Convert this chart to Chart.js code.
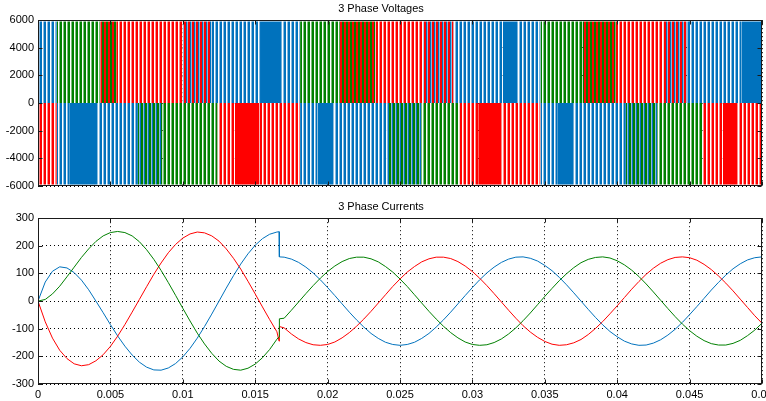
<!DOCTYPE html>
<html>
<head>
<meta charset="utf-8">
<script src="https://cdn.jsdelivr.net/npm/chart.js@4.4.1/dist/chart.umd.min.js"></script>
<style>
  body { margin: 0; background: #fff; }
  canvas { position: absolute; left: 0; }
  #v { top: 0; }
  #c { top: 195px; }
</style>
</head>
<body>
<canvas id="v" width="766" height="192"></canvas>
<canvas id="c" width="766" height="206"></canvas>
<script>
// pulse trains of the line voltages, [start, end] in seconds
const VDC = 5900;
const blueStripeHi = [[0, 0.0013], [0.0120, 0.0154], [0.0168, 0.0181], [0.0287, 0.0321], [0.0331, 0.0347], [0.0448, 0.0486]];
const blueSolidHi = [[0.0154, 0.0168], [0.0321, 0.0331], [0.0486, 0.05]];
const greenStripeHi = [[0.0013, 0.0043], [0.0181, 0.0208], [0.0347, 0.0376]];
const redStripeHi = [[0.0054, 0.0100], [0.0233, 0.0266], [0.0399, 0.0432]];
const redGreenHi = [[0.0043, 0.0054], [0.0208, 0.0233], [0.0376, 0.0399]];
const redBlueHi = [[0.0100, 0.0120], [0.0266, 0.0287], [0.0432, 0.0448]];

const redStripeLo = [[0, 0.0013], [0.0124, 0.0136], [0.0153, 0.0181], [0.0291, 0.0304], [0.0320, 0.0347], [0.0459, 0.0473], [0.0483, 0.05]];
const redSolidLo = [[0.0136, 0.0153], [0.0304, 0.0320], [0.0473, 0.0483]];
const blueStripeLo = [[0.0013, 0.0022], [0.0041, 0.0069], [0.0181, 0.0193], [0.0204, 0.0241], [0.0347, 0.0359], [0.0370, 0.0406]];
const blueSolidLo = [[0.0022, 0.0041], [0.0193, 0.0204], [0.0359, 0.0370]];
const blueGreenLo = [[0.0069, 0.0086], [0.0241, 0.0265], [0.0406, 0.0428]];
const greenStripeLo = [[0.0086, 0.0124], [0.0265, 0.0291], [0.0428, 0.0459]];

// phase currents
const tCur = [0, 0.0005, 0.001, 0.0015, 0.002, 0.0025, 0.003, 0.0035, 0.004, 0.0045, 0.005, 0.0055, 0.006, 0.0065, 0.007, 0.0075, 0.008, 0.0085, 0.009, 0.0095, 0.01, 0.0105, 0.011, 0.0115, 0.012, 0.0125, 0.013, 0.0135, 0.014, 0.0145, 0.015, 0.0155, 0.016, 0.0165, 0.01665, 0.01667,
  0.017, 0.0175, 0.018, 0.0185, 0.019, 0.0195, 0.02, 0.0205, 0.021, 0.0215, 0.022, 0.0225, 0.023, 0.0235, 0.024, 0.0245, 0.025, 0.0255, 0.026, 0.0265, 0.027, 0.0275, 0.028, 0.0285, 0.029, 0.0295, 0.03, 0.0305, 0.031, 0.0315, 0.032, 0.0325, 0.033,
  0.0335, 0.034, 0.0345, 0.035, 0.0355, 0.036, 0.0365, 0.037, 0.0375, 0.038, 0.0385, 0.039, 0.0395, 0.04, 0.0405, 0.041, 0.0415, 0.042, 0.0425, 0.043, 0.0435, 0.044, 0.0445, 0.045, 0.0455, 0.046, 0.0465, 0.047, 0.0475, 0.048, 0.0485, 0.049, 0.0495, 0.05];
const iBlue = [0, 69, 108, 124, 120, 103, 76, 41, 0, -42, -85, -126, -163, -195, -221, -239, -249, -250, -242, -226, -202, -171, -134, -92, -47, 0, 47, 92, 134, 171, 202, 226, 242, 250, 251, 160,
  159, 152, 140, 123, 102, 77, 49, 20, -10, -40, -68, -94, -117, -135, -149, -157, -160, -157, -149, -135, -117, -94, -68, -40, -10, 20, 49, 77, 102, 123, 140, 152, 159,
  160, 155, 145, 129, 110, 86, 59, 30, 0, -30, -59, -86, -110, -129, -145, -155, -160, -159, -152, -140, -123, -102, -77, -49, -20, 10, 40, 68, 94, 117, 135, 149, 157, 160];
const iRed = [0, -75, -134, -178, -208, -227, -234, -230, -216, -194, -164, -127, -85, -40, 6, 52, 97, 138, 175, 205, 228, 243, 250, 247, 236, 217, 189, 155, 116, 72, 26, -21, -67, -111, -145, -92,
  -97, -119, -137, -150, -158, -160, -157, -148, -133, -114, -91, -65, -37, -7, 23, 53, 80, 105, 125, 142, 153, 159, 159, 154, 143, 127, 107, 83, 56, 27, -3, -33, -62,
  -89, -112, -131, -146, -156, -160, -158, -151, -139, -121, -99, -74, -46, -17, 13, 43, 71, 97, 119, 137, 150, 158, 160, 157, 148, 133, 114, 91, 65, 37, 7, -23, -53, -80];
const iGreen = [0, 6, 26, 54, 88, 123, 158, 189, 216, 236, 248, 252, 248, 236, 215, 186, 151, 111, 67, 21, -26, -72, -116, -155, -189, -217, -236, -247, -250, -243, -228, -205, -175, -138, -129, -64,
  -62, -33, -3, 27, 56, 83, 107, 127, 143, 154, 159, 159, 153, 142, 125, 105, 80, 53, 23, -7, -37, -65, -91, -114, -133, -148, -157, -160, -158, -150, -137, -119, -97,
  -71, -43, -13, 17, 46, 74, 99, 121, 139, 151, 158, 160, 156, 146, 131, 112, 89, 62, 33, 3, -27, -56, -83, -107, -127, -143, -154, -159, -159, -153, -142, -125, -105, -80];

const B = '#0072bd', LB = '#86b9e0', R = '#ff0000', LR = '#ff8a8a', G = '#008000', LG = '#7bbd7b', W = '#ffffff';

function stripes(cols) {
  const c = document.createElement('canvas');
  c.width = cols.length;
  c.height = 1;
  const g = c.getContext('2d');
  cols.forEach((col, i) => { g.fillStyle = col; g.fillRect(i, 0, 1, 1); });
  return g.createPattern(c, 'repeat');
}

function pulses(hi, lo) {
  const segs = hi.map(s => [s[0], s[1], VDC]).concat(lo.map(s => [s[0], s[1], -VDC]));
  segs.sort((a, b) => a[0] - b[0]);
  const pts = [];
  segs.forEach(([a, b, v]) => pts.push({ x: a, y: v }, { x: b, y: v }, { x: b, y: null }));
  return pts;
}

function area(data, fillStyle) {
  return { data, backgroundColor: fillStyle, borderColor: 'transparent', borderWidth: 0, pointRadius: 0, fill: 'origin' };
}

const font = { family: 'Arial', size: 11 };

const boxPlugin = {
  id: 'box',
  afterDraw(chart) {
    const { ctx, chartArea: a, scales } = chart;
    const l = Math.round(a.left) + 0.5, t = Math.round(a.top) + 0.5;
    const r = Math.round(a.right) - 0.5, b = Math.round(a.bottom) - 0.5;
    ctx.save();
    ctx.strokeStyle = '#1a1a1a';
    ctx.lineWidth = 1;
    ctx.strokeRect(l, t, r - l, b - t);
    ctx.beginPath();
    scales.x.ticks.forEach(tk => {
      const px = Math.round(scales.x.getPixelForValue(tk.value)) + 0.5;
      ctx.moveTo(px, b); ctx.lineTo(px, b - 4);
      ctx.moveTo(px, t); ctx.lineTo(px, t + 4);
    });
    scales.y.ticks.forEach(tk => {
      const py = Math.round(scales.y.getPixelForValue(tk.value)) + 0.5;
      ctx.moveTo(l, py); ctx.lineTo(l + 4, py);
      ctx.moveTo(r, py); ctx.lineTo(r - 4, py);
    });
    ctx.stroke();
    ctx.restore();
  }
};

function axes(yMin, yMax, yStep, xLabels, xHeight, gridOnTop) {
  return {
    x: {
      type: 'linear', min: 0, max: 0.05, z: gridOnTop ? 1 : 0,
      ticks: { display: xLabels, stepSize: 0.005, color: '#000', font, padding: 4, maxRotation: 0, autoSkip: false,
        callback: v => String(+v.toFixed(4)) },
      grid: { color: '#000', lineWidth: 1, drawTicks: false },
      border: { display: false, dash: [1, 3] },
      afterFit: s => { s.height = xHeight; s.paddingLeft = 0; s.paddingRight = 0; }
    },
    y: {
      min: yMin, max: yMax, z: gridOnTop ? 1 : 0,
      ticks: { stepSize: yStep, color: '#000', font, padding: 4, callback: v => String(v) },
      grid: { color: '#000', lineWidth: 1, drawTicks: false },
      border: { display: false, dash: [1, 3] },
      afterFit: s => { s.width = 38; s.paddingTop = 0; s.paddingBottom = 0; }
    }
  };
}

function titleOpts(text, top) {
  return { display: true, text, color: '#000', font: { family: 'Arial', size: 11, weight: 'normal' }, padding: { top, bottom: 5 } };
}

new Chart(document.getElementById('v'), {
  type: 'line',
  data: {
    datasets: [
      area(pulses(blueStripeHi, blueStripeLo), stripes([B, B, W, LB])),
      area(pulses(greenStripeHi, greenStripeLo), stripes([G, G, W, LG])),
      area(pulses(redStripeHi, redStripeLo), stripes([R, R, W, LR])),
      area(pulses(redGreenHi, []), stripes([R, R, G, G])),
      area(pulses(redBlueHi, []), stripes([R, R, B, LB])),
      area(pulses([], blueGreenLo), stripes([B, G, G, LB])),
      area(pulses(blueSolidHi, blueSolidLo), B),
      area(pulses([], redSolidLo), R)
    ]
  },
  options: {
    responsive: false,
    animation: false,
    layout: { padding: { left: 0, right: 4, top: 0, bottom: 0 } },
    plugins: { legend: { display: false }, tooltip: { enabled: false }, title: titleOpts('3 Phase Voltages', 2) },
    scales: axes(-6000, 6000, 2000, false, 6, true)
  },
  plugins: [boxPlugin]
});

function currentLine(values, color) {
  return { data: tCur.map((t, i) => ({ x: t, y: values[i] })), borderColor: color, borderWidth: 1, pointRadius: 0, fill: false, tension: 0 };
}

new Chart(document.getElementById('c'), {
  type: 'line',
  data: {
    datasets: [
      currentLine(iGreen, G),
      currentLine(iRed, R),
      currentLine(iBlue, B)
    ]
  },
  options: {
    responsive: false,
    animation: false,
    layout: { padding: { left: 0, right: 4, top: 0, bottom: 0 } },
    plugins: { legend: { display: false }, tooltip: { enabled: false }, title: titleOpts('3 Phase Currents', 5) },
    scales: axes(-300, 300, 100, true, 17, false)
  },
  plugins: [boxPlugin]
});
</script>
</body>
</html>
